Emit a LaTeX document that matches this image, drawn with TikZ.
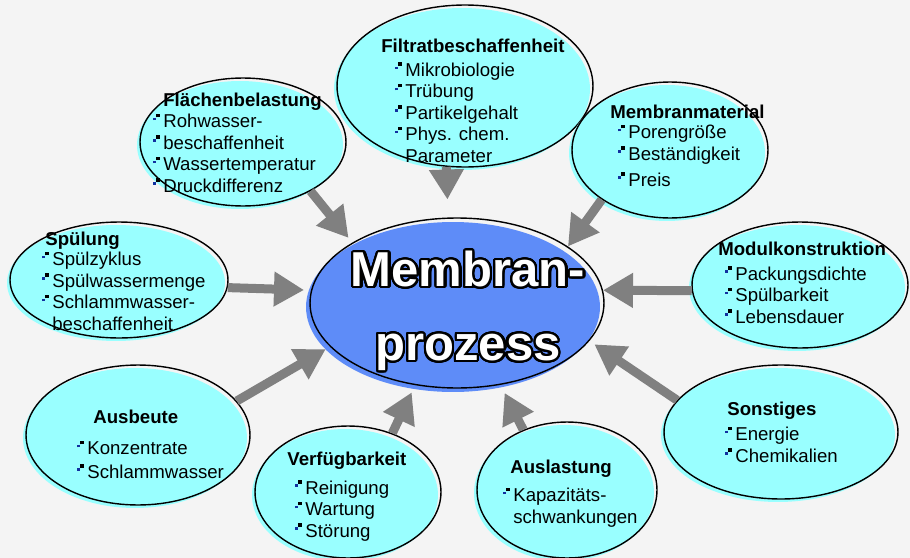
\documentclass[tikz,border=0pt]{standalone}
\usepackage{fontspec}
\setmainfont{Liberation Sans}
\usepackage{tikz}
\usetikzlibrary{shapes,arrows.meta,positioning}
\usepackage[copies]{contour}
\usepackage{xcolor}

\definecolor{bubcyan}{HTML}{99FFFF}
\definecolor{coreblue}{HTML}{5E8CF8}
\definecolor{arrowgray}{HTML}{808080}
\definecolor{bggray}{HTML}{F4F4F4}
\definecolor{bulnavy}{HTML}{1030A0}

\newcommand{\bubfont}{\fontsize{10.6}{12.2}\selectfont}
\newcommand{\bul}{\makebox[0.2cm][l]{\textcolor{bulnavy}{\rule[0.40em]{1.3pt}{1.3pt}}\kern0.2pt\rule[0.56em]{2pt}{2pt}}}
\newcommand{\nobul}{\makebox[0.2cm]{}}
\contourlength{1.3pt}
\contournumber{32}

\begin{document}
\begin{tikzpicture}[
    x=0.02cm, y=-0.02cm,
    bubble/.style={ellipse, draw=black, line width=0.8pt, inner sep=0pt,
        preaction={fill=bubcyan, transform canvas={xshift=-0.06cm, yshift=-0.06cm}}},
    core/.style={ellipse, draw=black, line width=0.8pt, inner sep=0pt,
        preaction={fill=coreblue, transform canvas={xshift=-0.08cm, yshift=-0.08cm}}},
    head/.style={inner sep=0pt, anchor=base west, font=\bubfont\bfseries},
    items/.style={inner sep=0pt, anchor=base west, align=left, font=\bubfont},
    arrow/.style={-{Triangle[length=0.6cm, width=0.66cm]}, line width=0.18cm, draw=arrowgray}
]

\useasboundingbox (0,0) rectangle (910,558);
\fill[bggray] (0,0) rectangle (910,558);

% Outer bubbles
\node[bubble, minimum width=4.12cm, minimum height=2.56cm] (flae) at (243,142) {};
\node[bubble, minimum width=5.12cm, minimum height=3.24cm] (filt) at (465,86) {};
\node[bubble, minimum width=3.92cm, minimum height=2.72cm] (mat) at (670,150) {};
\node[bubble, minimum width=4.36cm, minimum height=2.32cm] (spue) at (119,280) {};
\node[bubble, minimum width=4.32cm, minimum height=2.52cm] (modul) at (800,285) {};
\node[bubble, minimum width=4.48cm, minimum height=2.80cm] (ausb) at (138,435) {};
\node[bubble, minimum width=3.72cm, minimum height=2.64cm] (verf) at (348,492) {};
\node[bubble, minimum width=3.60cm, minimum height=2.72cm] (ausl) at (567,490) {};
\node[bubble, minimum width=4.68cm, minimum height=2.68cm] (sonst) at (781,432) {};

% Center
\node[core, minimum width=5.88cm, minimum height=3.40cm] (core) at (457,303) {};
\node[inner sep=0pt, align=center, font=\fontsize{27.9}{42}\selectfont\bfseries] (core-t) at (468,312)
    {\contour{black}{\textcolor{white}{Membran-}}\\\contour{black}{\textcolor{white}{prozess}}};

% Arrows
\draw[arrow, shorten >=0.36cm] (filt.257) -- (core.96);
\draw[arrow, shorten >=0.12cm] (flae.324) -- (core.150);
\draw[arrow] (mat.216) -- (core.27);
\draw[arrow, shorten >=0.14cm] (spue.356) -- (core.175);
\draw[arrow] (modul.183) -- (core.5);
\draw[arrow, shorten >=0.10cm] (ausb.19) -- (core.199);
\draw[arrow, shorten >=0.16cm] (verf.53) -- (core.243);
\draw[arrow, shorten >=0.18cm] (ausl.126) -- (core.298);
\draw[arrow, shorten >=0.12cm] (sonst.163) -- (core.344);

% Texts (lists sit on their last baseline)
\node[head] (filt-h) at (381,52) {Filtratbeschaffenheit};
\node[items] (filt-l) at (395,162) {\bul Mikrobiologie\\\bul Trübung\\\bul Partikelgehalt\\\bul Phys. chem.\\\nobul Parameter};

\node[head] (flae-h) at (163,106) {Flächenbelastung};
\node[items] (flae-l) at (153,192) {\bul Rohwasser-\\\bul beschaffenheit\\\bul Wassertemperatur\\\bul Druckdifferenz};

\node[head] (mat-h) at (610,118) {Membranmaterial};
\node[items] (mat-l) at (618,186) {\bul Porengröße\\\bul Beständigkeit\\[2.5pt]\bul Preis};

\node[head] (spue-h) at (45,245) {Spülung};
\node[items] (spue-l) at (42,330) {\bul Spülzyklus\\\bul Spülwassermenge\\\bul Schlammwasser-\\\nobul beschaffenheit};

\node[head] (modul-h) at (718,255) {Modulkonstruktion};
\node[items] (modul-l) at (725,323) {\bul Packungsdichte\\\bul Spülbarkeit\\\bul Lebensdauer};

\node[head] (ausb-h) at (93,423) {Ausbeute};
\node[items] (ausb-l) at (77,478) {\bul Konzentrate\\[1pt]\bul Schlammwasser};

\node[head] (verf-h) at (287,465) {Verfügbarkeit};
\node[items] (verf-l) at (295,537) {\bul Reinigung\\\bul Wartung\\\bul Störung};

\node[head] (ausl-h) at (510,473) {Auslastung};
\node[items] (ausl-l) at (503,523) {\bul Kapazitäts-\\\nobul schwankungen};

\node[head] (sonst-h) at (727,415) {Sonstiges};
\node[items] (sonst-l) at (725,462) {\bul Energie\\\bul Chemikalien};

\end{tikzpicture}
\end{document}
